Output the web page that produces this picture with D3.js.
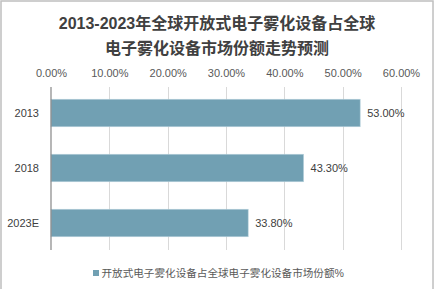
<!DOCTYPE html>
<html>
<head>
<meta charset="utf-8">
<script src="https://cdn.jsdelivr.net/npm/d3@7"></script>
<style>
  body { margin: 0; background: #fff; }
  svg text { font-family: "Liberation Sans", Arial, "Noto Sans CJK SC", sans-serif; }
</style>
</head>
<body>
<div class="canvas"></div>
<script>
// data
const categories = ['2013', '2018', '2023E'];
const shares = [53.0, 43.3, 33.8];
const tickValues = [0, 10, 20, 30, 40, 50, 60];
const titleLines = ['2013-2023年全球开放式电子雾化设备占全球', '电子雾化设备市场份额走势预测'];
const seriesName = '开放式电子雾化设备占全球电子雾化设备市场份额%';

const width = 435;
const height = 289;

const svg = d3.select('.canvas')
  .append('svg')
    .attr('width', width)
    .attr('height', height);

// chart frame
svg.append('rect')
  .attr('x', 1)
  .attr('y', 1)
  .attr('width', 432)
  .attr('height', 300)
  .attr('fill', 'none')
  .attr('stroke', '#bfbfbf')
  .attr('stroke-width', 1.5);

// title
svg.append('g').selectAll('text')
  .data(titleLines)
  .enter()
  .append('text')
    .attr('x', 217)
    .attr('y', (d, i) => 23 + i * 25)
    .attr('text-anchor', 'middle')
    .attr('dominant-baseline', 'central')
    .attr('font-family', '"Noto Sans CJK SC", sans-serif')
    .attr('font-weight', 'bold')
    .attr('font-size', 16)
    .attr('fill', '#404040')
    .text(d => d);

// scales
const x = d3.scaleLinear()
  .domain([0, 60])
  .range([51, 401]);

const y = d3.scaleBand()
  .domain(categories)
  .range([85.5, 250.5])
  .paddingInner(0.5)
  .paddingOuter(0.25);

// gridlines
svg.append('g').selectAll('line')
  .data(tickValues.slice(1))
  .enter()
  .append('line')
    .attr('x1', d => Math.round(x(d)) + 0.5)
    .attr('x2', d => Math.round(x(d)) + 0.5)
    .attr('y1', 87)
    .attr('y2', 250)
    .attr('stroke', '#d9d9d9');

// top axis labels
const xAxis = d3.axisTop(x)
  .tickValues(tickValues)
  .tickSize(0)
  .tickPadding(0)
  .tickFormat(d => d.toFixed(2) + '%');

const xAxisGroup = svg.append('g')
  .attr('transform', 'translate(0, 77)')
  .call(xAxis);
xAxisGroup.select('.domain').remove();
xAxisGroup.selectAll('text')
  .attr('font-size', 11)
  .attr('fill', '#595959')
  .attr('font-family', '"Liberation Sans", Arial, sans-serif');

// bars
svg.append('g').selectAll('rect')
  .data(shares)
  .enter()
  .append('rect')
    .attr('x', x(0))
    .attr('y', (d, i) => y(categories[i]))
    .attr('width', d => x(d) - x(0))
    .attr('height', y.bandwidth())
    .attr('fill', '#71a0b3')
    .attr('stroke', '#b5d0db')
    .attr('stroke-width', 0.6);

// left axis
const yAxis = d3.axisLeft(y)
  .tickSize(0)
  .tickPadding(12);

const yAxisGroup = svg.append('g')
  .attr('transform', `translate(${x(0)}, 0)`)
  .call(yAxis);
yAxisGroup.select('.domain').remove();
yAxisGroup.selectAll('text')
  .attr('font-size', 11)
  .attr('fill', '#404040')
  .attr('font-family', '"Liberation Sans", Arial, sans-serif');

svg.append('line')
  .attr('x1', x(0))
  .attr('x2', x(0))
  .attr('y1', 87)
  .attr('y2', 250)
  .attr('stroke', '#868686')
  .attr('stroke-width', 1.2);

// value labels
svg.append('g').selectAll('text')
  .data(shares)
  .enter()
  .append('text')
    .attr('x', d => x(d) + 7)
    .attr('y', (d, i) => y(categories[i]) + y.bandwidth() / 2)
    .attr('dominant-baseline', 'central')
    .attr('font-size', 11)
    .attr('fill', '#404040')
    .text(d => d.toFixed(2) + '%');

// legend
const legend = svg.append('g')
  .attr('transform', 'translate(93, 273)');
legend.append('rect')
  .attr('x', 0)
  .attr('y', -3)
  .attr('width', 6)
  .attr('height', 6)
  .attr('fill', '#71a0b3');
legend.append('text')
  .attr('x', 8.5)
  .attr('y', 0)
  .attr('dominant-baseline', 'central')
  .attr('font-family', '"Noto Sans CJK SC", sans-serif')
  .attr('font-size', 10.6)
  .attr('fill', '#595959')
  .text(seriesName);
</script>
</body>
</html>
